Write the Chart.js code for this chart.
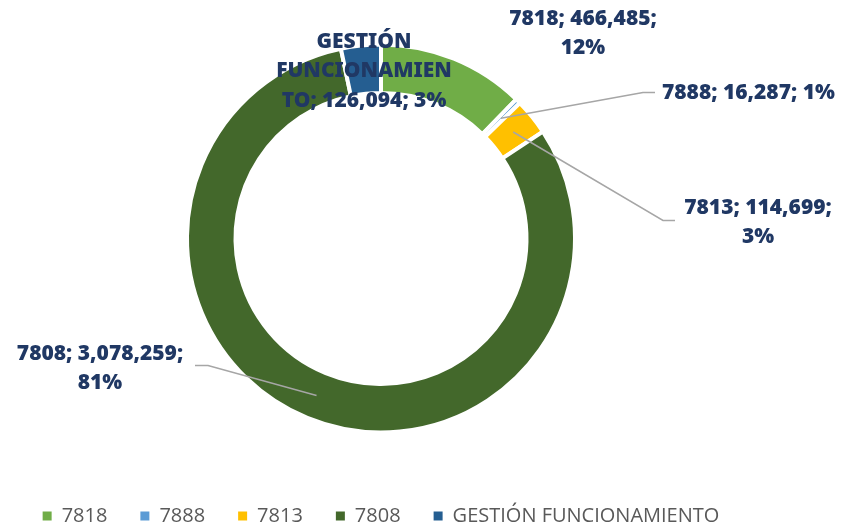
<!DOCTYPE html>
<html><head><meta charset="utf-8">
<script src="https://cdn.jsdelivr.net/npm/chart.js@4.4.1/dist/chart.umd.min.js"></script>
<style>html,body{margin:0;padding:0;background:#fff}#wrap{width:844px;height:527px;position:relative}</style>
</head><body><div id="wrap"><canvas id="c" width="844" height="527"></canvas></div>
<script>
const categories = ['7818', '7888', '7813', '7808', 'GESTIÓN FUNCIONAMIENTO'];
const values = [466485, 16287, 114699, 3078259, 126094];
const percents = [12, 1, 3, 81, 3];
const colors = ['#70AD47', '#5B9BD5', '#FFC000', '#43682B', '#255E91'];

// label placement relative to chart centre (px) and wrap widths
const labelLayout = [
  {dx: 202, dy: -205, wrap: 175, align: 'center'},
  {dx: 281, dy: -145, wrap: 400, align: 'left', elbow: [262, -146], end: [274, -146]},
  {dx: 377, dy: -16, wrap: 175, align: 'center', elbow: [282, -18], end: [294, -18]},
  {dx: -281, dy: 130, wrap: 195, align: 'center', elbow: [-173, 127], end: [-186, 127]},
  {dx: -17, dy: -167, wrap: 176, align: 'center'}
];
const LABEL_FONT = '900 21px "Noto Sans", "Open Sans", sans-serif';
const LINE_H = 29.5;

function wrapText(ctx, text, maxW) {
  const words = text.split(' ');
  const lines = [];
  let cur = '';
  const pushWord = (w) => {
    const test = cur ? cur + ' ' + w : w;
    if (ctx.measureText(test).width <= maxW) { cur = test; return; }
    if (cur) { lines.push(cur); cur = ''; }
    if (ctx.measureText(w).width <= maxW) { cur = w; return; }
    let part = '';
    for (const ch of w) {
      if (ctx.measureText(part + ch).width > maxW) { lines.push(part); part = ch; }
      else part += ch;
    }
    cur = part;
  };
  words.forEach(pushWord);
  if (cur) lines.push(cur);
  return lines;
}

const labelPlugin = {
  id: 'sliceLabels',
  afterDatasetsDraw(chart) {
    const ctx = chart.ctx;
    const meta = chart.getDatasetMeta(0);
    ctx.save();
    meta.data.forEach((arc, i) => {
      const lay = labelLayout[i];
      const cx = arc.x, cy = arc.y;
      const mid = (arc.startAngle + arc.endAngle) / 2;
      const rm = (arc.innerRadius + arc.outerRadius) / 2;
      if (lay.elbow) {
        ctx.strokeStyle = '#A6A6A6';
        ctx.lineWidth = 1.5;
        ctx.beginPath();
        ctx.moveTo(cx + Math.cos(mid) * rm, cy + Math.sin(mid) * rm);
        ctx.lineTo(cx + lay.elbow[0], cy + lay.elbow[1]);
        ctx.lineTo(cx + lay.end[0], cy + lay.end[1]);
        ctx.stroke();
      }
      ctx.font = LABEL_FONT;
      ctx.fillStyle = '#203864';
      ctx.textBaseline = 'middle';
      ctx.textAlign = lay.align;
      const text = categories[i] + '; ' + values[i].toLocaleString('en-US') + '; ' + percents[i] + '%';
      const lines = wrapText(ctx, text, lay.wrap);
      const n = lines.length;
      lines.forEach((ln, k) => {
        ctx.fillText(ln, cx + lay.dx, cy + lay.dy + (k - (n - 1) / 2) * LINE_H);
      });
    });
    ctx.restore();
  }
};

const defaultLabels = Chart.overrides.doughnut.plugins.legend.labels.generateLabels;

new Chart(document.getElementById('c'), {
  type: 'doughnut',
  data: {
    labels: categories,
    datasets: [{
      data: values,
      backgroundColor: colors,
      borderColor: '#FFFFFF',
      borderWidth: 4,
      hoverOffset: 0
    }]
  },
  options: {
    responsive: false,
    animation: false,
    radius: 194,
    cutout: '75%',
    layout: {padding: {left: 0, right: 82, top: 4, bottom: -9}},
    plugins: {
      legend: {
        position: 'bottom',
        align: 'center',
        labels: {
          boxWidth: 9,
          boxHeight: 9,
          padding: 33,
          color: '#595959',
          font: {family: '"Open Sans", "Noto Sans", sans-serif', size: 20},
          generateLabels(chart) {
            return defaultLabels(chart).map(it => Object.assign(it, {lineWidth: 0, strokeStyle: 'rgba(0,0,0,0)'}));
          }
        }
      },
      tooltip: {enabled: false}
    }
  },
  plugins: [labelPlugin]
});
</script>
</body></html>
